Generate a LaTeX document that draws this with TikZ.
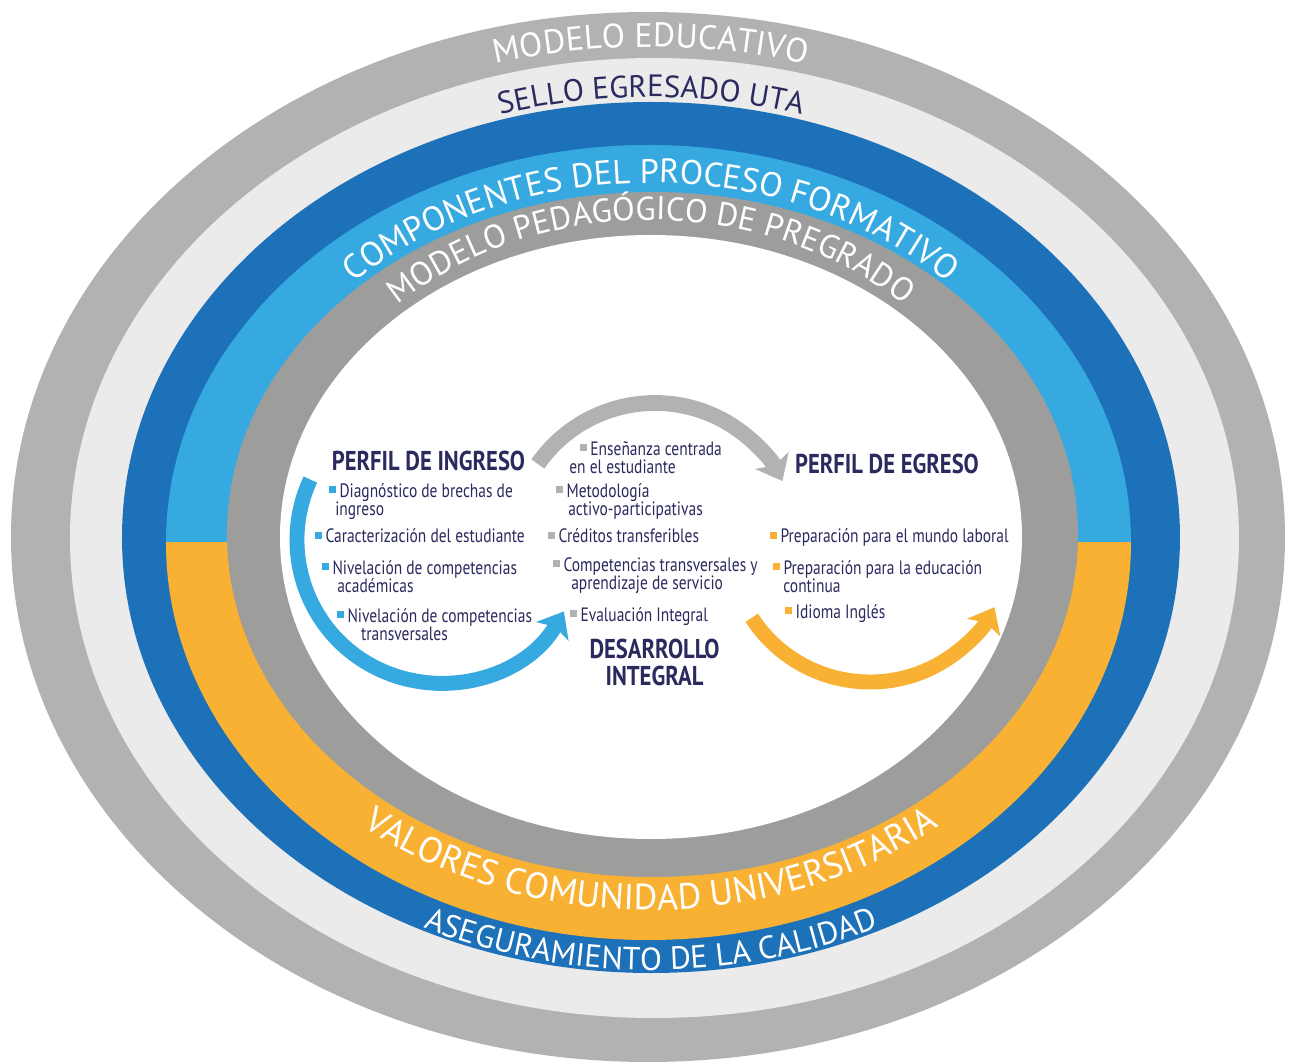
\documentclass[tikz,border=0pt]{standalone}
\usepackage{fontspec}
\setmainfont{PT Sans}
\newfontfamily\condfont[FakeStretch=0.80]{PT Sans}
\newfontfamily\headfont[FakeStretch=0.83]{PT Sans}
\usepackage{tikz}
\usetikzlibrary{arrows.meta,decorations.text,positioning}

\definecolor{outergray}{HTML}{B2B2B2}
\definecolor{palegray}{HTML}{EBEBEB}
\definecolor{darkblue}{HTML}{1D71B8}
\definecolor{skyblue}{HTML}{36A9E1}
\definecolor{goldyellow}{HTML}{F8B133}
\definecolor{midgray}{HTML}{9D9D9C}
\definecolor{navy}{HTML}{2B2A5E}

\tikzstyle{item} = [anchor=base west, inner sep=0pt, align=left, text=navy,
    font=\condfont\fontsize{11}{10.2}\selectfont]
\tikzstyle{head} = [anchor=base, inner sep=0pt, align=center, text=navy,
    font=\headfont\bfseries\fontsize{15.5}{15.3}\selectfont]
\tikzstyle{flow} = [line width=8.5pt, -{Stealth[length=13pt,width=21pt,inset=3pt]}]
\tikzstyle{ringlabel} = [decorate]

\newcommand{\bul}[1]{\textcolor{#1}{\rule[2.4pt]{3.8pt}{3.8pt}}\hspace{2pt}}

\begin{document}
\begin{tikzpicture}[x=0.02cm, y=0.02cm]
\useasboundingbox (-651,-524) rectangle (638,538);
    % Rings
    \fill[outergray] (-3,1) ellipse [x radius=637, y radius=525];
    \fill[palegray] (3.5,0) ellipse [x radius=584.5, y radius=480];
    \fill[darkblue] (0,0.5) ellipse [x radius=529, y radius=435.5];
    \begin{scope}
        \clip (-651,-4) rectangle (638,538);
        \fill[skyblue] (-2.5,-4.5) ellipse [x radius=482.5, y radius=397.5];
    \end{scope}
    \begin{scope}
        \clip (-651,-4) rectangle (638,-524);
        \fill[goldyellow] (-2.5,-4.5) ellipse [x radius=482.5, y radius=397.5];
    \end{scope}
    \fill[midgray] (1.5,3.5) ellipse [x radius=425.5, y radius=342.5];
    \fill[white] (0,1) ellipse [x radius=371, y radius=302];

    % Ring labels
    \path[ringlabel, decoration={text along path, text align=center,
        text={|\fontsize{19.3}{20}\selectfont\color{white}|MODELO EDUCATIVO}}]
        (170:596 and 491) arc[start angle=170, end angle=10, x radius=596, y radius=491];
    \path[ringlabel, decoration={text along path, text align=center,
        text={|\fontsize{17.6}{18}\selectfont\color{navy}|SELLO EGRESADO UTA}}]
        (170:535 and 441) arc[start angle=170, end angle=10, x radius=535, y radius=441];
    \path[ringlabel, decoration={text along path, text align=center,
        text={|\fontsize{19.4}{20}\selectfont\color{white}|COMPONENTES DEL PROCESO FORMATIVO}}]
        (175:428 and 355) arc[start angle=175, end angle=5, x radius=428, y radius=355];
    \path[ringlabel, decoration={text along path, text align=center,
        text={|\fontsize{18.8}{20}\selectfont\color{white}|MODELO PEDAGÓGICO DE PREGRADO}}]
        (175:372 and 318) arc[start angle=175, end angle=5, x radius=372, y radius=318];
    \path[ringlabel, decoration={text along path, text align=center,
        text={|\fontsize{20.6}{22}\selectfont\color{white}|VALORES  COMUNIDAD UNIVERSITARIA}}]
        (185:456 and 372) arc[start angle=185, end angle=355, x radius=456, y radius=372];
    \path[ringlabel, decoration={text along path, text align=center,
        text={|\fontsize{18.2}{20}\selectfont\color{white}|ASEGURAMIENTO DE LA CALIDAD}}]
        (185:525 and 432) arc[start angle=185, end angle=355, x radius=525, y radius=432];

    % Draw arrows
    \coordinate (ingresoc) at (-211,-2);
    \coordinate (desarrolloc) at (4,-8);
    \coordinate (egresoc) at (219,-3);
    \draw[flow, skyblue] ([shift={(155:143)}]ingresoc) arc[start angle=155, end angle=330, radius=143];
    \draw[flow, outergray, line width=9pt] ([shift={(145:143)}]desarrolloc) arc[start angle=145, end angle=27, radius=143];
    \draw[flow, goldyellow] ([shift={(213:141)}]egresoc) arc[start angle=213, end angle=332, radius=141];

    % Place nodes (base = last line)
    \node[head] (ingreso) at (-222.5,68) {PERFIL DE INGRESO};
    \node[item] (diag) at (-322,23) {\bul{skyblue}Diagnóstico de brechas de\\\hspace*{3.4pt}ingreso};
    \node[item] (carac) at (-336,-5) {\bul{skyblue}Caracterización del estudiante};
    \node[item] (nivacad) at (-329,-54) {\bul{skyblue}Nivelación de competencias\\\hspace*{8.5pt}académicas};
    \node[item] (nivtrans) at (-314,-102) {\bul{skyblue}Nivelación de competencias\\\hspace*{13.6pt}transversales};

    \node[item] (ensen) at (-82,65) {\hspace*{6.2pt}\bul{outergray}Enseñanza centrada\\en el estudiante};
    \node[item] (metod) at (-95,23) {\bul{outergray}Metodología\\\hspace*{6.8pt}activo-participativas};
    \node[item] (creditos) at (-103,-5) {\bul{outergray}Créditos transferibles};
    \node[item] (comptrans) at (-98,-51) {\bul{outergray}Competencias transversales y\\\hspace*{10.2pt}aprendizaje de servicio};
    \node[item] (evalint) at (-81,-83) {\bul{outergray}Evaluación Integral};
    \node[head] (desarrollo) at (3.5,-147) {DESARROLLO\\INTEGRAL};

    \node[head] (egreso) at (236,65) {PERFIL DE EGRESO};
    \node[item] (laboral) at (119,-5) {\bul{goldyellow}Preparación para el mundo laboral};
    \node[item] (educ) at (122,-54) {\bul{goldyellow}Preparación para la educación\\\hspace*{5.7pt}continua};
    \node[item] (ingles) at (134,-80) {\bul{goldyellow}Idioma Inglés};
\end{tikzpicture}
\end{document}
